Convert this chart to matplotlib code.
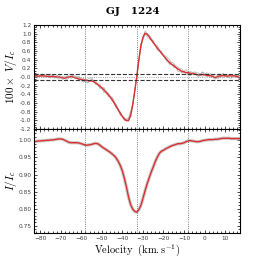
import numpy as np
import matplotlib
matplotlib.use("Agg")
import matplotlib.pyplot as plt
from matplotlib.ticker import MultipleLocator

plt.rcParams['mathtext.fontset'] = 'cm'

# velocity grid (km/s)
velocity = np.arange(-83, 18)

# mean Stokes V profile (100 x V/Ic)
stokes_v = [
    0.02, 0.03, 0.02, 0.02, 0.03, 0.02, 0.02, 0.01, 0.01, 0.02,      # -83..-74
    0.01, 0.00, 0.00, -0.01, -0.02, -0.03, -0.01, 0.00, 0.01, 0.00,  # -73..-64
    -0.02, -0.03, -0.05, -0.06, -0.07, -0.07, -0.08, -0.09, -0.09, -0.11,  # -63..-54
    -0.14, -0.17, -0.21, -0.25, -0.30, -0.35, -0.40, -0.46, -0.52, -0.60,  # -53..-44
    -0.68, -0.76, -0.84, -0.91, -0.97, -1.01, -1.00, -0.90, -0.65, -0.33,  # -43..-34
    0.02, 0.40, 0.72, 0.92, 1.01, 0.99, 0.93, 0.86, 0.80, 0.73,      # -33..-24
    0.67, 0.61, 0.55, 0.49, 0.44, 0.38, 0.33, 0.29, 0.26, 0.22,      # -23..-14
    0.18, 0.16, 0.13, 0.12, 0.10, 0.10, 0.09, 0.08, 0.07, 0.06,      # -13..-4
    0.05, 0.05, 0.06, 0.05, 0.04, 0.03, 0.03, 0.01, -0.01, 0.00,     # -3..6
    0.02, 0.03, 0.03, 0.03, 0.02, 0.03, 0.02, 0.03, 0.02, 0.01,      # 7..16
    -0.02,                                                            # 17
]

# mean Stokes I profile (I/Ic)
stokes_i = [
    0.996, 0.997, 0.998, 0.998, 0.999, 0.999, 1.000, 1.000, 1.001, 1.001,
    1.002, 1.003, 1.004, 1.004, 1.003, 1.000, 0.997, 0.994, 0.993, 0.993,
    0.993, 0.993, 0.992, 0.990, 0.988, 0.986, 0.986, 0.987, 0.988, 0.990,
    0.991, 0.990, 0.986, 0.981, 0.977, 0.973, 0.969, 0.965, 0.960, 0.955,
    0.948, 0.938, 0.926, 0.910, 0.888, 0.862, 0.834, 0.812, 0.799, 0.792,
    0.790, 0.797, 0.810, 0.830, 0.852, 0.872, 0.890, 0.907, 0.922, 0.938,
    0.951, 0.962, 0.968, 0.971, 0.975, 0.978, 0.981, 0.984, 0.986, 0.988,
    0.990, 0.990, 0.991, 0.993, 0.996, 0.998, 0.999, 0.998, 0.997, 0.996,
    0.996, 0.997, 0.999, 1.000, 1.001, 1.002, 1.002, 1.002, 1.003, 1.003,
    1.004, 1.005, 1.006, 1.006, 1.006, 1.006, 1.005, 1.005, 1.005, 1.005,
    1.005,
]

# individual observations: offsets from the mean V, every 2 km/s
obs_offsets = [
    [0.03, -0.02, 0.04, 0.01, -0.03, 0.05, 0.02, -0.04, 0.03, 0.06,
     -0.02, 0.04, -0.05, 0.03, 0.07, -0.03, 0.05, -0.06, 0.04, 0.02,
     -0.04, 0.03, -0.02, 0.04, -0.03, 0.02, -0.04, 0.05, 0.03, -0.03,
     0.06, -0.02, 0.05, 0.07, -0.04, 0.03, 0.06, -0.05, 0.04, 0.02,
     -0.06, 0.05, 0.03, -0.04, 0.06, 0.02, -0.05, 0.04, 0.03, -0.03,
     0.02],
    [-0.04, 0.03, -0.01, 0.05, 0.02, -0.04, 0.06, 0.01, -0.05, 0.02,
     0.05, -0.03, 0.04, -0.06, 0.02, 0.05, -0.04, 0.03, -0.05, 0.06,
     0.03, -0.05, 0.04, -0.03, 0.05, -0.04, 0.03, -0.02, -0.05, 0.04,
     -0.03, 0.05, -0.04, 0.02, 0.06, -0.05, -0.02, 0.07, -0.03, 0.05,
     0.04, -0.05, 0.06, 0.02, -0.04, 0.05, 0.03, -0.02, -0.05, 0.04,
     -0.03],
    [0.01, 0.05, -0.03, -0.02, 0.06, 0.00, -0.05, 0.04, 0.02, -0.04,
     0.03, 0.06, -0.02, -0.04, 0.04, 0.02, -0.05, 0.06, 0.01, -0.04,
     0.05, 0.02, -0.04, 0.06, 0.01, -0.05, 0.05, -0.03, 0.04, 0.03,
     -0.05, 0.02, -0.03, -0.04, 0.03, 0.05, -0.04, 0.02, -0.06, 0.03,
     -0.02, 0.06, -0.04, 0.05, -0.02, -0.05, 0.06, -0.03, 0.04, 0.01,
     0.05],
]

line_centres = [-58, -33, -8]

red = '#dc2f2f'
xlim = (-83, 17.2)

fig = plt.figure(figsize=(2.66, 2.66), dpi=100)
ax1 = fig.add_axes([0.128, 0.515, 0.774, 0.391])
ax2 = fig.add_axes([0.128, 0.124, 0.774, 0.391], sharex=ax1)

v = np.array(stokes_v)
for off in obs_offsets:
    ax1.plot(velocity[::2], v[::2] + np.array(off), color='#a0a0a0', lw=0.5, alpha=0.8)
ax1.plot(velocity, v, color=red, lw=1.0)
ax1.axhline(0.06, color='#333333', ls='--', lw=0.8)
ax1.axhline(-0.06, color='#333333', ls='--', lw=0.8)
ax1.axhline(0.0, color='#888888', ls=':', lw=0.6)

ax2.plot(velocity, stokes_i, color='#cccccc', lw=2.4)
ax2.plot(velocity, stokes_i, color=red, lw=1.0)

for ax in (ax1, ax2):
    for xc in line_centres:
        ax.axvline(xc, color='#555555', ls=':', lw=0.6)
    ax.set_xlim(*xlim)
    ax.xaxis.set_major_locator(MultipleLocator(10))
    ax.xaxis.set_minor_locator(MultipleLocator(2))
    ax.tick_params(which='both', direction='in', top=True, right=True,
                   labelsize=4.2, labelcolor='#444444', width=0.5, pad=2)
    ax.tick_params(which='major', length=2.5)
    ax.tick_params(which='minor', length=1.2)
    for s in ax.spines.values():
        s.set_linewidth(0.8)

ax1.set_ylim(-1.2, 1.2)
ax1.yaxis.set_minor_locator(MultipleLocator(0.05))
ax1.tick_params(labelbottom=False)
ax1.set_yticks(np.arange(-1.2, 1.21, 0.2))
ax1.set_yticklabels(['%.1f' % t for t in np.arange(-1.2, 1.21, 0.2)])

ax2.set_ylim(0.729, 1.033)
ax2.yaxis.set_major_locator(MultipleLocator(0.05))
ax2.yaxis.set_minor_locator(MultipleLocator(0.01))

ax1.set_ylabel(r'$100\times\ V/I_c$', fontsize=8)
ax2.set_ylabel(r'$I/I_c$', fontsize=8)
ax1.yaxis.set_label_coords(-0.075, 0.5)
ax2.yaxis.set_label_coords(-0.075, 0.5)
ax2.set_xlabel(r'$\mathrm{Velocity}\ \ (\mathrm{km.s^{-1}})$', fontsize=7.5)
ax2.xaxis.set_label_coords(0.5, -0.085)
fig.text(0.5, 0.955, 'GJ   1224', fontsize=7.5, fontfamily='DejaVu Serif',
         fontweight='bold', ha='center', va='center')

fig.savefig('out.png', dpi=100)
